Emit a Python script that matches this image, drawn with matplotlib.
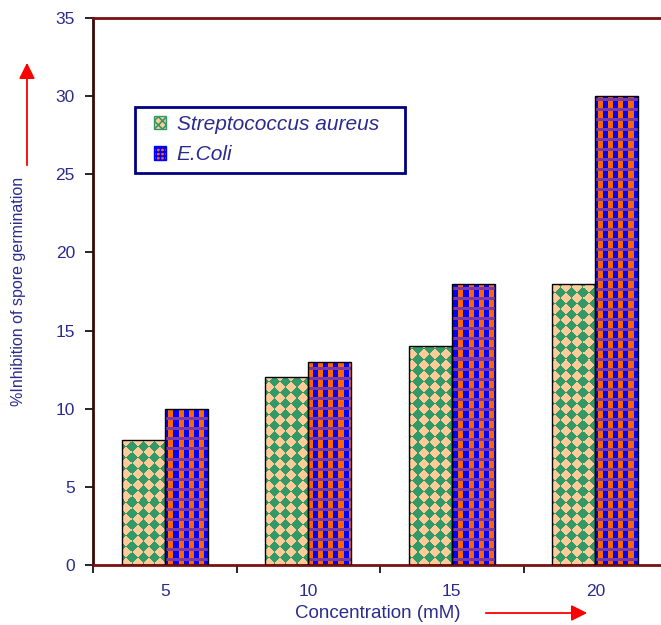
import matplotlib
matplotlib.use("Agg")
import matplotlib.pyplot as plt
from matplotlib.patches import Patch, Rectangle
import numpy as np

concentrations = ["5", "10", "15", "20"]
strep_aureus = [8, 12, 14, 18]
e_coli = [10, 13, 18, 30]
y_ticks = [0, 5, 10, 15, 20, 25, 30, 35]

navy = "#2B2B8F"
maroon = "#7A1010"

plt.rcParams.update({
    'font.family': 'Liberation Sans',
    'hatch.linewidth': 1.2,
})

W, H, DPI = 6.61, 6.25, 100
fig = plt.figure(figsize=(W, H), dpi=DPI)
# plot area runs a little past the right edge, like the original crop
ax = fig.add_axes([93/661, 60/625, 574/661, 547/625])

x = np.arange(len(concentrations))
bw = 0.3
ax.set_xlim(-0.5, len(concentrations) - 0.5)
ax.set_ylim(0, 35)

# textures (pixel patterns) for the two series
ax_w, ax_h = 574, 547
jj, ii = np.meshgrid(np.arange(ax_w), np.arange(ax_h))

s = 11
green_tex = np.zeros((ax_h, ax_w, 3))
chk = ((np.floor((jj + ii) / s) + np.floor((jj - ii) / s)) % 2).astype(bool)
green_tex[chk] = matplotlib.colors.to_rgb("#FFCC99")
green_tex[~chk] = matplotlib.colors.to_rgb("#339966")

blue_tex = np.zeros((ax_h, ax_w, 3))
vstripe = (jj % 10) < 5
band = (ii % 10) < 3
blue_tex[vstripe] = matplotlib.colors.to_rgb("#0000FF")
blue_tex[~vstripe] = matplotlib.colors.to_rgb("#FF6600")
blue_tex[band] = matplotlib.colors.to_rgb("#7A38A8")

bars1 = ax.bar(x - bw/2, strep_aureus, bw, facecolor="none", edgecolor="black", lw=1, zorder=3)
bars2 = ax.bar(x + bw/2, e_coli, bw, facecolor="none", edgecolor="black", lw=1, zorder=3)

ext = (ax.get_xlim()[0], ax.get_xlim()[1], ax.get_ylim()[0], ax.get_ylim()[1])
for bars, tex in [(bars1, green_tex), (bars2, blue_tex)]:
    for b in bars:
        im = ax.imshow(tex, extent=ext, aspect='auto', interpolation='nearest', zorder=2)
        im.set_clip_path(b)

ax.set_xlim(-0.5, len(concentrations) - 0.5)
ax.set_ylim(0, 35)

# ticks
ax.set_xticks(x)
ax.set_xticklabels(concentrations)
ax.set_xticks(np.arange(-0.5, len(concentrations), 1), minor=True)
ax.tick_params(axis='x', which='major', length=0, pad=14, labelsize=12.5, labelcolor=navy)
ax.tick_params(axis='x', which='minor', length=6, width=1.2, direction='out', color='black')
ax.set_yticks(y_ticks)
ax.tick_params(axis='y', length=6, width=1.2, direction='out', pad=7, labelsize=12.5, labelcolor=navy)

for side in ['top', 'bottom']:
    ax.spines[side].set_color(maroon)
    ax.spines[side].set_linewidth(2)
ax.spines['left'].set_color("#3a0808")
ax.spines['left'].set_linewidth(2)
ax.spines['right'].set_visible(False)

# legend: frame drawn separately so the side padding can be wider
ax.add_patch(Rectangle((0.0732, 0.7166), 0.4704, 0.1207, transform=ax.transAxes,
                       facecolor='white', edgecolor='#000080', lw=2, zorder=4))
handles = [
    Patch(facecolor="#FFCC99", edgecolor="#339966", hatch="xxxx", lw=1),
    Patch(facecolor="#FF6600", edgecolor="#0000FF", hatch="++++", lw=1),
]
leg = ax.legend(handles, ["Streptococcus aureus", "E.Coli"],
                loc='center left', bbox_to_anchor=(0.106, 0.7775),
                frameon=False, fontsize=15,
                handlelength=0.6, handleheight=0.6, handletextpad=0.5,
                labelspacing=0.55, borderpad=0, borderaxespad=0)
leg.set_zorder(5)
for t in leg.get_texts():
    t.set_color(navy)
    t.set_fontstyle('italic')

# axis labels with red arrows
fig.text(378/661, 1 - 613/625, "Concentration (mM)", ha='center', va='center',
         fontsize=13.5, color=navy)
fig.text(19/661, 1 - 291/625, "%Inhibition of spore germination", rotation=90,
         ha='center', va='center', fontsize=11.5, color=navy)

fig.patches.append(matplotlib.patches.FancyArrowPatch(
    (483/661, 1 - 613/625), (590/661, 1 - 613/625), transform=fig.transFigure,
    arrowstyle='-|>,head_length=6,head_width=3', color='red', lw=1.3, mutation_scale=1.6))
fig.patches.append(matplotlib.patches.FancyArrowPatch(
    (27/661, 1 - 168/625), (27/661, 1 - 60/625), transform=fig.transFigure,
    arrowstyle='-|>,head_length=6,head_width=3', color='red', lw=1.3, mutation_scale=1.6))

plt.savefig("out.png", dpi=DPI)
